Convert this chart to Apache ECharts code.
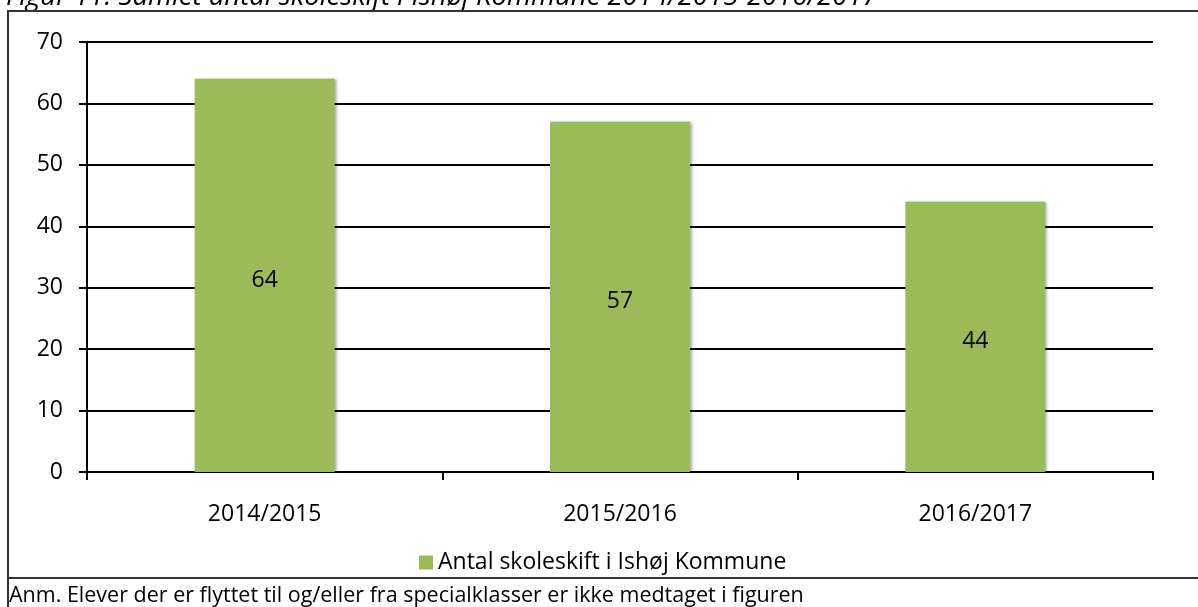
<!DOCTYPE html>
<html><head><meta charset="utf-8">
<script src="https://cdn.jsdelivr.net/npm/echarts@6/dist/echarts.min.js"></script>
<style>html,body{margin:0;padding:0;background:#fff}#c{width:1198px;height:607px}</style>
</head><body><div id="c"></div>
<script>
const titleText = 'Figur 11. Samlet antal skoleskift i Ishøj Kommune 2014/2015-2016/2017';
const noteText = 'Anm. Elever der er flyttet til og/eller fra specialklasser er ikke medtaget i figuren';
const seriesName = 'Antal skoleskift i Ishøj Kommune';
const categories = ['2014/2015', '2015/2016', '2016/2017'];
const values = [64, 57, 44];
const yTicks = { min: 0, max: 70, interval: 10 };

const FONT = '"Open Sans", sans-serif';
const chart = echarts.init(document.getElementById('c'), null, { renderer: 'canvas' });
chart.setOption({
  animation: false,
  backgroundColor: '#fff',
  textStyle: { fontFamily: FONT },
  grid: { left: 87, right: 45, top: 42, bottom: 135, containLabel: false },
  legend: {
    data: [seriesName],
    left: 414, top: 546,
    icon: 'rect', itemWidth: 14, itemHeight: 14, itemGap: 6,
    textStyle: { fontFamily: FONT, fontSize: 23, color: '#000' }
  },
  xAxis: {
    type: 'category', data: categories,
    axisLine: { lineStyle: { color: '#000', width: 2 } },
    axisTick: { show: true, length: 8, lineStyle: { color: '#000', width: 2 } },
    axisLabel: { color: '#000', fontSize: 23, fontFamily: FONT, margin: 31 }
  },
  yAxis: {
    type: 'value', min: yTicks.min, max: yTicks.max, interval: yTicks.interval,
    axisLine: { show: true, lineStyle: { color: '#000', width: 2 } },
    axisTick: { show: true, length: 8, lineStyle: { color: '#000', width: 2 } },
    axisLabel: { color: '#000', fontSize: 23, fontFamily: FONT, margin: 24 },
    splitLine: { lineStyle: { color: '#000', width: 2 } }
  },
  series: [{
    name: seriesName, type: 'bar', data: values, barWidth: 140,
    itemStyle: { color: '#9BBB59', shadowColor: 'rgba(0,0,0,0.35)', shadowBlur: 3, shadowOffsetX: 2, shadowOffsetY: 0 },
    label: { show: true, position: 'inside', offset: [0, 5], color: '#000', fontSize: 23, fontFamily: FONT }
  }],
  graphic: [
    { type: 'text', x: 6, y: 11, style: { text: titleText, font: 'italic 27.5px "Open Sans", sans-serif', fill: '#000', verticalAlign: 'bottom' } },
    { type: 'line', shape: { x1: 7, y1: 11, x2: 1198, y2: 11 }, style: { stroke: '#333', lineWidth: 2 } },
    { type: 'line', shape: { x1: 8, y1: 11, x2: 8, y2: 607 }, style: { stroke: '#333', lineWidth: 2 } },
    { type: 'line', shape: { x1: 7, y1: 578, x2: 1198, y2: 578 }, style: { stroke: '#333', lineWidth: 2 } },
    { type: 'text', x: 9, y: 596, style: { text: noteText, font: '21.5px "Open Sans", sans-serif', fill: '#000', verticalAlign: 'middle' } }
  ]
});
</script></body></html>
